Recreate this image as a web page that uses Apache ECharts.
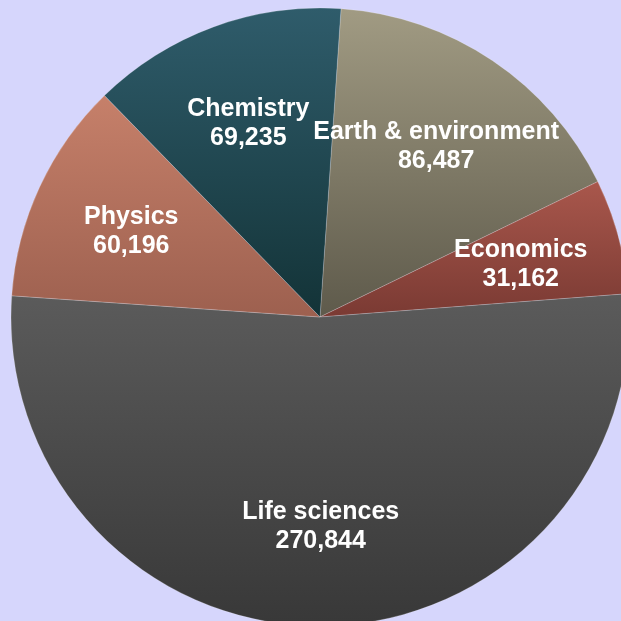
<!DOCTYPE html>
<html>
<head>
<meta charset="utf-8">
<script src="https://cdn.jsdelivr.net/npm/echarts@6/dist/echarts.min.js"></script>
<style>
  html, body { margin: 0; padding: 0; background: #d6d6fc; }
  #chart { width: 621px; height: 621px; }
</style>
</head>
<body>
<div id="chart"></div>
<script>
// data, in drawing order (clockwise from the top)
const categories = ['Earth & environment', 'Economics', 'Life sciences', 'Physics', 'Chemistry'];
const values = [86487, 31162, 270844, 60196, 69235];
// gradient top / bottom per slice
const topColors = ['#a19b83', '#a9574c', '#5b5b5b', '#c6806a', '#2f5c6b'];
const bottomColors = ['#5e5a4b', '#7a3a33', '#383838', '#9d604f', '#133337'];

const chart = echarts.init(document.getElementById('chart'));

const sliceData = categories.map((name, i) => ({
  name: name,
  value: values[i],
  itemStyle: {
    color: new echarts.graphic.LinearGradient(0, 0, 0, 1, [
      { offset: 0, color: topColors[i] },
      { offset: 1, color: bottomColors[i] }
    ])
  }
}));

const fmt = (v) => v.toLocaleString('en-US');

chart.setOption({
  backgroundColor: '#d6d6fc',
  animation: false,
  series: [
    {
      type: 'pie',
      center: [320, 317],
      radius: [0, 309],
      startAngle: 86.1,
      clockwise: true,
      silent: true,
      label: { show: false },
      labelLine: { show: false },
      itemStyle: { borderColor: 'rgba(255,255,255,0.35)', borderWidth: 0.6 },
      data: sliceData
    },
    {
      // label ring only, puts the text at about two thirds of the radius
      type: 'pie',
      center: [320, 319],
      radius: [101, 309],
      startAngle: 86.1,
      clockwise: true,
      silent: true,
      itemStyle: { color: 'rgba(0,0,0,0)' },
      labelLine: { show: false },
      label: {
        show: true,
        position: 'inside',
        color: '#ffffff',
        fontFamily: 'Liberation Sans, Arial, sans-serif',
        fontWeight: 'bold',
        fontSize: 25,
        lineHeight: 29,
        formatter: (p) => p.name + '\n' + fmt(p.value)
      },
      data: categories.map((name, i) => ({ name: name, value: values[i] }))
    }
  ]
});
</script>
</body>
</html>
